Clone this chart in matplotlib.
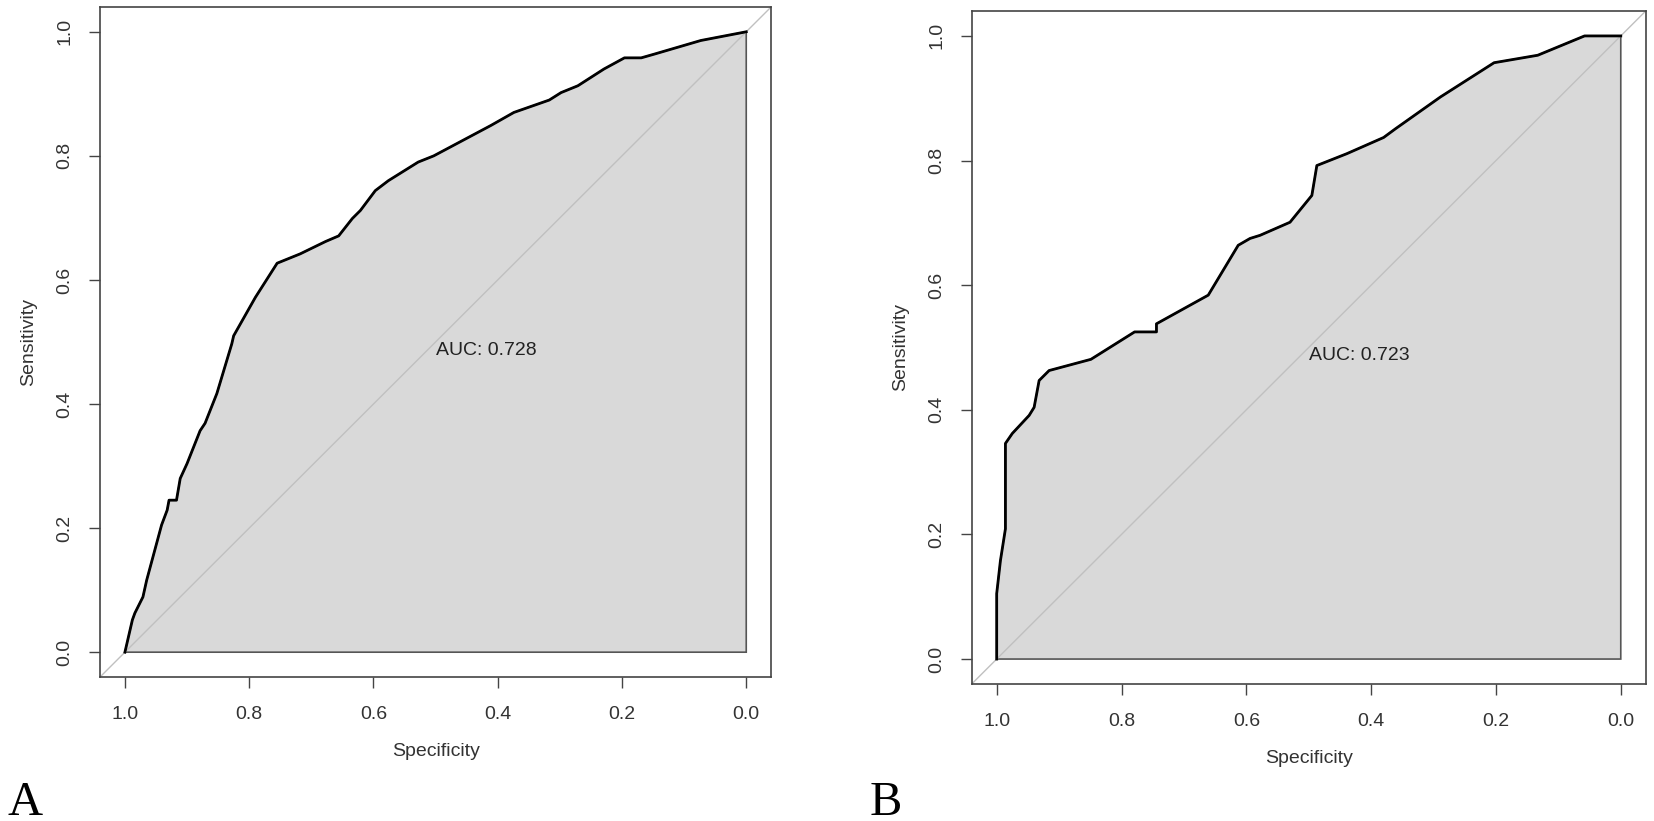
import numpy as np
import matplotlib
matplotlib.use("Agg")
import matplotlib.pyplot as plt

plt.rcParams['font.family'] = ['Liberation Sans', 'DejaVu Sans']
plt.rcParams['font.size'] = 14

# ROC curve A (specificity, sensitivity)
spec_a = [1.0, 0.988, 0.984, 0.971, 0.965, 0.941, 0.932, 0.929, 0.917, 0.911, 0.900,
          0.879, 0.871, 0.852, 0.828, 0.825, 0.790, 0.755, 0.718, 0.677, 0.656,
          0.634, 0.621, 0.597, 0.576, 0.528, 0.503, 0.411, 0.374, 0.317, 0.298,
          0.271, 0.229, 0.196, 0.169, 0.148, 0.073, 0.0]
sens_a = [0.0, 0.052, 0.063, 0.089, 0.116, 0.205, 0.229, 0.245, 0.245, 0.280, 0.304,
          0.357, 0.369, 0.417, 0.497, 0.510, 0.572, 0.627, 0.642, 0.662, 0.671,
          0.699, 0.712, 0.744, 0.760, 0.790, 0.800, 0.849, 0.870, 0.890, 0.902,
          0.913, 0.940, 0.958, 0.958, 0.964, 0.986, 1.0]
auc_a = "AUC: 0.728"

# ROC curve B
spec_b = [1.0, 1.0, 0.994, 0.986, 0.986, 0.986, 0.975, 0.948, 0.940, 0.932, 0.916,
          0.849, 0.779, 0.744, 0.744, 0.661, 0.613, 0.594, 0.578, 0.530, 0.495,
          0.487, 0.439, 0.380, 0.361, 0.289, 0.203, 0.133, 0.058, 0.0]
sens_b = [0.0, 0.105, 0.158, 0.209, 0.319, 0.346, 0.362, 0.391, 0.404, 0.447, 0.463,
          0.481, 0.525, 0.525, 0.538, 0.584, 0.664, 0.675, 0.680, 0.701, 0.744,
          0.792, 0.811, 0.837, 0.851, 0.902, 0.957, 0.969, 1.0, 1.0]
auc_b = "AUC: 0.723"

ticks = [0.0, 0.2, 0.4, 0.6, 0.8, 1.0]
tick_labels = ['0.0', '0.2', '0.4', '0.6', '0.8', '1.0']
axis_col = '#444444'


def roc_panel(ax, spec, sens, auc_text):
    ax.fill(np.r_[spec, 0.0, 1.0], np.r_[sens, 0.0, 0.0], facecolor='#D9D9D9',
            edgecolor='#555555', linewidth=1.2, zorder=1)
    ax.axline((1.0, 0.0), (0.0, 1.0), color='#C0C0C0', linewidth=1.0, zorder=2)
    ax.plot(spec, sens, color='black', linewidth=2.0, zorder=3)
    ax.text(0.5, 0.5, auc_text, ha='left', va='top', color='#222222', fontsize=14)

    ax.set_xlim(1.04, -0.04)
    ax.set_ylim(-0.04, 1.04)
    ax.set_xticks(ticks, tick_labels)
    ax.set_yticks(ticks, tick_labels, rotation=90, va='center')
    ax.tick_params(direction='out', length=8, width=1, colors=axis_col,
                   labelcolor='#333333', labelsize=14)
    ax.tick_params(axis='x', pad=13)
    ax.tick_params(axis='y', pad=11)
    for sp in ax.spines.values():
        sp.set_color(axis_col)
        sp.set_linewidth(1.2)
    ax.set_xlabel("Specificity", color='#333333', fontsize=14, labelpad=14)
    ax.set_ylabel("Sensitivity", color='#333333', fontsize=14, labelpad=14)


fig = plt.figure(figsize=(16.54, 8.21), dpi=100)
ax_a = fig.add_axes([0.0605, 0.1754, 0.4057, 0.8161])
ax_b = fig.add_axes([0.5875, 0.1669, 0.4075, 0.8197])

roc_panel(ax_a, spec_a, sens_a, auc_a)
roc_panel(ax_b, spec_b, sens_b, auc_b)

fig.text(7 / 1654, 1 - 815 / 821, "A", family=['Liberation Serif', 'DejaVu Serif'],
         fontsize=35, ha='left', va='baseline')
fig.text(870 / 1654, 1 - 815 / 821, "B", family=['Liberation Serif', 'DejaVu Serif'],
         fontsize=35, ha='left', va='baseline')

fig.savefig("out.png", dpi=100)
